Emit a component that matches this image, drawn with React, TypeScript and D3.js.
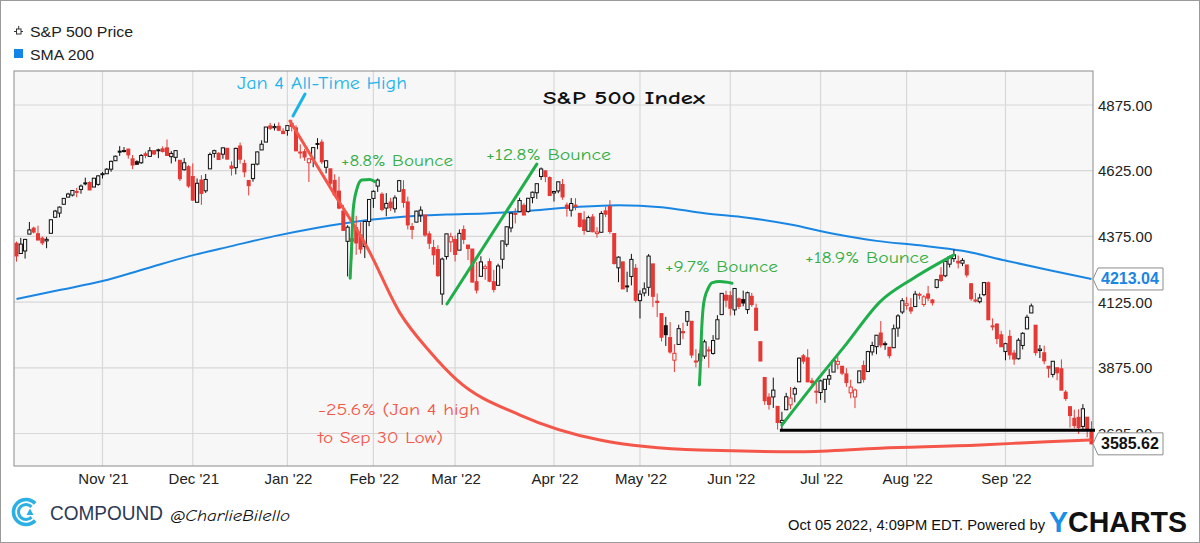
import React from 'react'
import * as d3 from 'd3'

// trading sessions Oct 4 2021 .. Sep 30 2022 (weekdays minus NYSE holidays)
const firstSession = '2021-10-04'
const lastSession = '2022-09-30'
const holidays = ['2021-11-25', '2021-12-24', '2022-01-17', '2022-02-21', '2022-04-15', '2022-05-30', '2022-06-20', '2022-07-04', '2022-09-05']
const priorClose = 4357.04

const opens = [
  // Oct
  4348.84, 4309.87, 4319.57, 4383.73, 4406.51, 4385.44, 4368.31, 4358.01, 4386.75, 4447.69, 4463.72, 4497.34, 4524.42, 4532.24, 4546.12, 4553.69, 4578.69, 4580.22, 4562.84, 4572.87,
  // Nov
  4610.62, 4613.34, 4630.65, 4662.93, 4699.26, 4701.48, 4707.25, 4670.26, 4659.39, 4655.24, 4689.3, 4679.42, 4701.5, 4700.72, 4708.44, 4712.0, 4678.48, 4675.78, 4664.63, 4628.75, 4640.25,
  // Dec
  4602.82, 4504.73, 4589.49, 4548.37, 4631.97, 4690.86, 4691.0, 4687.64, 4710.3, 4642.99, 4636.46, 4719.13, 4652.5, 4587.9, 4594.96, 4650.36, 4703.96, 4733.99, 4795.49, 4788.64, 4794.23, 4775.21,
  // Jan
  4778.14, 4804.51, 4787.99, 4693.39, 4697.66, 4655.34, 4669.14, 4728.59, 4733.56, 4637.99, 4632.24, 4588.03, 4547.35, 4471.38, 4356.32, 4366.64, 4408.43, 4380.58, 4336.19, 4431.79,
  // Feb
  4519.57, 4566.39, 4535.41, 4482.79, 4505.75, 4480.02, 4547.0, 4553.24, 4506.27, 4412.61, 4429.28, 4455.75, 4456.06, 4384.57, 4332.74, 4324.93, 4155.77, 4298.38, 4354.17,
  // Mar
  4363.14, 4322.56, 4401.31, 4342.12, 4327.01, 4202.66, 4223.1, 4252.55, 4279.5, 4202.75, 4188.82, 4288.14, 4345.11, 4407.34, 4462.4, 4469.1, 4493.1, 4469.98, 4522.66, 4541.09, 4602.86, 4624.2, 4599.02,
  // Apr
  4540.32, 4547.97, 4572.45, 4494.17, 4474.65, 4494.15, 4462.64, 4437.59, 4394.3, 4449.12, 4385.63, 4390.63, 4472.26, 4489.17, 4385.83, 4255.34, 4278.14, 4186.52, 4222.58, 4253.75,
  // May
  4130.61, 4159.78, 4181.18, 4270.43, 4128.17, 4081.27, 4035.18, 3990.08, 3903.95, 3963.9, 4013.02, 4052.0, 4051.98, 3899.0, 3927.76, 3919.42, 3942.94, 3929.59, 3984.6, 4077.43, 4151.09,
  // Jun
  4149.78, 4095.41, 4137.57, 4134.72, 4096.47, 4147.12, 4101.65, 3974.39, 3838.15, 3763.52, 3764.05, 3728.18, 3665.9, 3715.31, 3733.89, 3774.71, 3821.75, 3920.76, 3913.0, 3825.09, 3785.99,
  // Jul
  3781.0, 3792.61, 3831.98, 3858.85, 3888.26, 3880.94, 3851.95, 3779.67, 3763.99, 3818.0, 3883.79, 3860.73, 3935.32, 3955.47, 4007.45, 3965.72, 3953.22, 3951.43, 4026.13, 4087.33,
  // Aug
  4112.38, 4104.21, 4107.96, 4154.85, 4115.87, 4155.93, 4133.11, 4181.02, 4227.4, 4225.02, 4269.37, 4290.46, 4280.4, 4273.13, 4266.31, 4195.08, 4133.09, 4126.55, 4153.26, 4198.74, 4034.58, 4041.25, 4000.67,
  // Sep
  3936.73, 3994.66, 3930.89, 3909.43, 3959.94, 4022.94, 4083.67, 4037.12, 3940.73, 3932.41, 3880.95, 3849.91, 3875.23, 3871.4, 3782.36, 3727.14, 3682.72, 3686.44, 3651.94, 3687.01, 3633.48,
]

const highs = [
  4355.51, 4369.23, 4365.57, 4429.97, 4412.02, 4415.88, 4374.89, 4372.87, 4439.73, 4475.82, 4488.75, 4520.4, 4540.87, 4551.44, 4559.67, 4572.62, 4598.53, 4584.57, 4597.55, 4608.08,
  4620.34, 4635.15, 4663.46, 4683.0, 4718.5, 4714.92, 4708.53, 4684.85, 4664.55, 4688.47, 4697.42, 4714.95, 4701.5, 4708.8, 4717.75, 4743.83, 4699.39, 4702.87, 4664.63, 4672.95, 4646.02,
  4652.94, 4595.46, 4608.03, 4612.6, 4694.04, 4705.06, 4695.26, 4713.57, 4710.3, 4660.47, 4712.6, 4731.99, 4666.7, 4587.9, 4651.14, 4697.67, 4740.74, 4791.49, 4807.02, 4804.06, 4808.93, 4786.83,
  4796.64, 4818.62, 4797.7, 4725.01, 4707.95, 4673.02, 4714.13, 4748.83, 4744.13, 4665.13, 4632.24, 4611.55, 4602.11, 4494.52, 4417.35, 4411.01, 4453.23, 4428.74, 4432.72, 4516.89,
  4550.49, 4595.31, 4542.88, 4539.66, 4521.86, 4531.32, 4590.03, 4588.92, 4526.33, 4426.22, 4472.77, 4489.55, 4456.06, 4394.6, 4362.12, 4341.51, 4294.73, 4385.34, 4388.84,
  4378.45, 4401.48, 4416.78, 4342.12, 4327.01, 4276.94, 4299.4, 4268.28, 4291.01, 4247.57, 4271.05, 4358.9, 4412.67, 4465.4, 4481.75, 4522.0, 4501.07, 4520.58, 4546.03, 4575.65, 4637.3, 4627.77, 4603.07,
  4548.7, 4583.5, 4593.45, 4503.94, 4521.16, 4520.41, 4464.35, 4471.0, 4453.92, 4460.46, 4410.31, 4471.03, 4488.29, 4512.94, 4385.83, 4299.02, 4278.14, 4240.71, 4308.45, 4269.68,
  4169.81, 4200.1, 4307.66, 4270.43, 4157.69, 4081.27, 4068.82, 4049.09, 3964.8, 4038.88, 4046.46, 4090.72, 4051.98, 3945.96, 3943.42, 3981.88, 3955.68, 3999.33, 4075.14, 4158.49, 4168.34,
  4166.54, 4177.51, 4142.67, 4168.78, 4164.86, 4160.14, 4119.1, 3974.39, 3838.15, 3778.18, 3837.56, 3728.18, 3707.71, 3779.65, 3801.79, 3802.58, 3913.65, 3927.72, 3945.86, 3836.5, 3818.99,
  3829.82, 3832.19, 3870.91, 3910.63, 3918.5, 3880.94, 3873.41, 3829.44, 3796.41, 3863.62, 3902.44, 3939.81, 3974.13, 3999.29, 4052.69, 3975.3, 3953.22, 4039.56, 4078.95, 4140.15,
  4144.95, 4140.47, 4167.66, 4161.29, 4151.58, 4186.62, 4137.3, 4211.03, 4257.91, 4280.47, 4301.79, 4325.28, 4302.18, 4292.53, 4266.31, 4195.08, 4159.77, 4156.56, 4200.54, 4203.04, 4062.99, 4044.98, 4015.37,
  3970.23, 4018.43, 3942.55, 3987.89, 4010.5, 4076.81, 4119.28, 4037.12, 3961.94, 3959.14, 3880.95, 3900.45, 3876.01, 3907.07, 3790.28, 3727.14, 3715.67, 3717.53, 3736.74, 3687.01, 3671.44,
]

const lows = [
  4278.94, 4309.87, 4290.49, 4383.73, 4386.22, 4360.59, 4342.09, 4329.92, 4386.75, 4447.69, 4447.47, 4496.41, 4524.4, 4526.89, 4524.0, 4537.36, 4569.17, 4551.66, 4562.84, 4567.59,
  4595.06, 4613.34, 4621.19, 4662.59, 4681.32, 4694.39, 4670.87, 4630.86, 4648.31, 4650.77, 4672.86, 4679.42, 4684.41, 4672.78, 4694.22, 4682.17, 4652.66, 4659.89, 4585.43, 4625.26, 4560.0,
  4510.27, 4504.73, 4495.12, 4540.51, 4631.97, 4674.52, 4665.98, 4670.24, 4667.6, 4606.52, 4611.22, 4651.89, 4600.22, 4531.1, 4583.16, 4645.53, 4703.96, 4733.99, 4780.04, 4778.08, 4775.33, 4765.75,
  4758.17, 4774.27, 4699.44, 4671.26, 4662.74, 4582.24, 4638.27, 4706.71, 4650.29, 4614.75, 4568.7, 4530.2, 4477.95, 4395.34, 4222.62, 4287.11, 4304.8, 4309.5, 4292.46, 4414.02,
  4483.53, 4544.32, 4470.39, 4451.5, 4471.47, 4465.4, 4547.0, 4484.31, 4401.41, 4364.84, 4429.28, 4429.68, 4373.81, 4327.22, 4267.11, 4221.51, 4114.65, 4286.83, 4315.12,
  4279.54, 4322.56, 4345.56, 4284.98, 4199.85, 4157.87, 4223.1, 4209.8, 4200.49, 4161.72, 4187.9, 4251.99, 4335.65, 4390.57, 4424.3, 4469.1, 4455.81, 4465.17, 4501.07, 4517.69, 4589.66, 4581.32, 4530.41,
  4507.57, 4539.21, 4514.17, 4450.04, 4450.3, 4474.6, 4408.38, 4381.34, 4392.7, 4390.77, 4370.3, 4390.63, 4448.76, 4384.47, 4267.62, 4200.82, 4175.04, 4162.9, 4188.63, 4124.28,
  4062.51, 4147.08, 4148.91, 4106.01, 4067.91, 3975.48, 3958.17, 3928.82, 3858.87, 3963.9, 3983.99, 4033.93, 3911.91, 3876.58, 3810.32, 3909.04, 3875.13, 3925.03, 3984.6, 4077.43, 4104.88,
  4073.85, 4074.37, 4098.67, 4109.18, 4080.19, 4107.2, 4017.17, 3900.16, 3734.3, 3715.68, 3722.3, 3639.77, 3636.87, 3715.31, 3717.69, 3743.52, 3821.75, 3889.66, 3820.14, 3799.02, 3738.67,
  3752.1, 3742.06, 3809.37, 3858.85, 3869.34, 3847.22, 3802.36, 3759.07, 3721.56, 3817.18, 3818.63, 3860.73, 3922.03, 3926.63, 3951.43, 3943.46, 3910.74, 3951.43, 3992.97, 4079.22,
  4096.02, 4079.81, 4107.96, 4135.42, 4107.31, 4128.97, 4112.09, 4177.26, 4201.41, 4219.78, 4256.9, 4277.77, 4253.08, 4261.98, 4218.7, 4129.86, 4124.03, 4119.97, 4147.59, 4057.66, 4017.42, 3965.21, 3954.53,
  3903.65, 3906.21, 3886.75, 3906.03, 3944.81, 4022.94, 4083.67, 3921.33, 3912.07, 3888.28, 3837.08, 3838.5, 3827.54, 3789.49, 3749.45, 3647.47, 3644.76, 3623.29, 3640.61, 3610.4, 3584.13,
]

const closes = [
  4300.46, 4345.72, 4363.55, 4399.76, 4391.34, 4361.19, 4350.65, 4363.8, 4438.26, 4471.37, 4486.46, 4519.63, 4536.19, 4549.78, 4544.9, 4566.48, 4574.79, 4551.68, 4596.42, 4605.38,
  4613.67, 4630.65, 4660.57, 4680.06, 4697.53, 4701.7, 4685.25, 4646.71, 4649.27, 4682.85, 4682.8, 4700.9, 4688.67, 4704.54, 4697.96, 4682.94, 4690.7, 4701.46, 4594.62, 4655.27, 4567.0,
  4513.04, 4577.1, 4538.43, 4591.67, 4686.75, 4701.21, 4667.45, 4712.02, 4668.97, 4634.09, 4709.85, 4668.67, 4620.64, 4568.02, 4649.23, 4696.56, 4725.79, 4791.19, 4786.35, 4793.06, 4778.73, 4766.18,
  4796.56, 4793.54, 4700.58, 4696.05, 4677.03, 4670.29, 4713.07, 4726.35, 4659.03, 4662.85, 4577.11, 4532.76, 4482.73, 4397.94, 4410.13, 4356.45, 4349.93, 4326.51, 4431.85, 4515.55,
  4546.54, 4589.38, 4477.44, 4500.53, 4483.87, 4521.54, 4587.18, 4504.08, 4418.64, 4401.67, 4471.07, 4475.01, 4380.26, 4348.87, 4304.76, 4225.5, 4288.7, 4384.65, 4373.94,
  4306.26, 4386.54, 4363.49, 4328.87, 4201.09, 4170.7, 4277.88, 4259.52, 4204.31, 4173.11, 4262.45, 4357.86, 4411.67, 4463.12, 4461.18, 4511.61, 4456.24, 4520.16, 4543.06, 4575.52, 4631.6, 4602.45, 4530.41,
  4545.86, 4582.64, 4525.12, 4481.15, 4500.21, 4488.28, 4412.53, 4397.45, 4446.59, 4392.59, 4391.69, 4462.21, 4459.45, 4393.66, 4271.78, 4296.12, 4175.2, 4183.96, 4287.5, 4131.93,
  4155.38, 4175.48, 4300.17, 4146.87, 4123.34, 3991.24, 4001.05, 3935.18, 3930.08, 4023.89, 4008.01, 4088.85, 3923.68, 3900.79, 3901.36, 3973.75, 3941.48, 3978.73, 4057.84, 4158.24, 4132.15,
  4101.23, 4176.82, 4108.54, 4121.43, 4160.68, 4115.77, 4017.82, 3900.86, 3749.63, 3735.48, 3789.99, 3666.77, 3674.84, 3764.79, 3759.89, 3795.73, 3911.74, 3900.11, 3821.55, 3818.83, 3785.38,
  3825.33, 3831.39, 3845.08, 3902.62, 3899.38, 3854.43, 3818.8, 3801.78, 3790.38, 3863.16, 3830.85, 3936.69, 3959.9, 3998.95, 3961.63, 3966.84, 3921.05, 4023.61, 4072.43, 4130.29,
  4118.63, 4091.19, 4155.17, 4151.94, 4145.19, 4140.06, 4122.47, 4210.24, 4207.27, 4280.15, 4297.14, 4305.2, 4274.04, 4283.74, 4228.48, 4137.99, 4128.73, 4140.77, 4199.12, 4057.66, 4030.61, 3986.16, 3955.0,
  3966.85, 3924.26, 3908.19, 3979.87, 4006.18, 4067.36, 4110.41, 3932.69, 3946.01, 3901.35, 3873.33, 3899.89, 3855.93, 3789.93, 3757.99, 3693.23, 3655.04, 3647.29, 3719.04, 3640.47, 3585.62,
]

// 200-day simple moving average, read every 10 sessions
const smaSessions = [0, 10, 20, 30, 40, 50, 60, 70, 80, 90, 100, 110, 120, 130, 140, 150, 160, 170, 180, 190, 200, 210, 220, 230, 240, 250]
const smaValues = [4137, 4171, 4205, 4252, 4299, 4338, 4376, 4408, 4434, 4450, 4458, 4463, 4474, 4487, 4494, 4486, 4463, 4446, 4420, 4385, 4358, 4341, 4320, 4283, 4247, 4213.04]

const priceTicks = [3625, 3875, 4125, 4375, 4625, 4875]
const monthKeys = ['2021-11', '2021-12', '2022-01', '2022-02', '2022-03', '2022-04', '2022-05', '2022-06', '2022-07', '2022-08', '2022-09']
const monthLabels = ["Nov '21", "Dec '21", "Jan '22", "Feb '22", "Mar '22", "Apr '22", "May '22", "Jun '22", "Jul '22", "Aug '22", "Sep '22"]

// hand-drawn annotations, as [session, price]
const drawdownCurve: [number, number][] = [
  [63.6, 4814], [73.6, 4544], [81.5, 4335], [89.2, 4083], [96.2, 3935], [102.4, 3829], [117.1, 3695],
  [135.7, 3600], [158.9, 3562], [182.2, 3556], [200.8, 3569], [224.1, 3581], [239.7, 3594], [249.7, 3600],
]
const bounceJan: [number, number][] = [[77.6, 4216], [78.0, 4361], [78.3, 4475], [79.1, 4552], [80.3, 4590], [82.2, 4592], [83.4, 4583]]
const bounceMar: [number, number][] = [[100.1, 4118], [121.0, 4650]]
const bounceMay: [number, number][] = [[158.8, 3810], [159.0, 3867], [159.3, 4007], [159.7, 4106], [160.1, 4144], [160.8, 4175], [161.7, 4198], [163.6, 4203], [166.4, 4197]]
const bounceJun: [number, number][] = [[178.0, 3657], [185.3, 3810], [193.1, 3968], [200.8, 4126], [208.6, 4216], [217.9, 4304]]
const athPointer: [number, number][] = [[64.3, 4833], [67.1, 4917]]
const lowSession = 178

const W = 1200
const H = 543
const plot = { left: 14, right: 1093, top: 71, bottom: 466 }

const RED = '#e53935'
const INK = '#111111'
const BLUE = '#1a86e3'
const GREEN = '#1fae4a'
const GREEN_TXT = '#33ad44'
const CORAL = '#f4574a'
const CYAN = '#1db3ea'
const LOGO = '#2bb0e4'
const HAND = "'Comic Sans MS', 'Comic Neue', 'DejaVu Sans', sans-serif"
const SANS = "Arial, 'Liberation Sans', sans-serif"
const NARROW = "'Liberation Sans Narrow', 'Arial Narrow', Arial, sans-serif"

const fmtDay = d3.utcFormat('%Y-%m-%d')
const fmtMonth = d3.utcFormat('%Y-%m')
const sessions = d3
  .utcDays(new Date(firstSession + 'T00:00:00Z'), d3.utcDay.offset(new Date(lastSession + 'T00:00:00Z'), 1))
  .filter((d) => d.getUTCDay() !== 0 && d.getUTCDay() !== 6 && !holidays.includes(fmtDay(d)))

const x = d3.scaleLinear().domain([-0.58, sessions.length - 0.65]).range([plot.left, plot.right])
const y = d3.scaleLinear().domain([3501.3, 5004.4]).range([plot.bottom, plot.top])

const lineOf = (curve: d3.CurveFactory) =>
  d3
    .line<[number, number]>()
    .x((d) => x(d[0]))
    .y((d) => y(d[1]))
    .curve(curve)

function PriceTag({ value, color }: { value: number; color: string }) {
  const cy = y(value)
  const path = `M${plot.right},${cy} L${plot.right + 5},${cy - 11} H${plot.right + 70} V${cy + 11} H${plot.right + 5} Z`
  return (
    <g>
      <path d={path} fill='#fff' stroke='#8c8c8c' strokeWidth={1} />
      <text x={plot.right + 8} y={cy + 5.5} fontFamily={SANS} fontWeight='bold' fontSize={16} fill={color}>
        {value.toFixed(2)}
      </text>
    </g>
  )
}

// ring segment of the Compound mark, open towards the right
const ring = (r: number, w: number) =>
  d3.arc()({ innerRadius: r - w / 2, outerRadius: r + w / 2, startAngle: Math.PI / 2 + 0.75, endAngle: Math.PI / 2 + Math.PI * 2 - 0.75 }) || ''

export default function App() {
  const monthStarts = monthKeys.map((k) => sessions.findIndex((d) => fmtMonth(d) === k))
  const smaPoints = smaSessions.map((s, i) => [s, smaValues[i]] as [number, number])
  const lastClose = closes[closes.length - 1]
  const lastSma = smaValues[smaValues.length - 1]
  const lowLevel = lows[lowSession]

  return (
    <svg width={W} height={H} style={{ position: 'absolute', left: 0, top: 0, background: '#fff' }}>
      <defs>
        <clipPath id='above-tag'>
          <rect x={plot.right} y={0} width={W - plot.right} height={y(lastClose) - 11} />
        </clipPath>
      </defs>
      <rect x={0.5} y={0.5} width={W - 1} height={H - 1} fill='#fff' stroke='#9a9a9a' />

      {/* legend */}
      <g fontFamily={SANS} fontSize={15.5} fill='#222'>
        <line x1={14} x2={23} y1={31.5} y2={31.5} stroke='#333' />
        <rect x={16.5} y={29} width={4.5} height={5} fill='#fff' stroke='#333' />
        <line x1={18.7} x2={18.7} y1={26} y2={29} stroke='#333' />
        <text x={30} y={36.5} textLength={103} lengthAdjust='spacingAndGlyphs'>S&amp;P 500 Price</text>
        <rect x={14} y={49} width={9} height={9} fill='#1385e8' />
        <text x={30} y={59.5} textLength={64} lengthAdjust='spacingAndGlyphs'>SMA 200</text>
      </g>

      {/* plot area */}
      <rect x={plot.left} y={plot.top} width={plot.right - plot.left} height={plot.bottom - plot.top} fill='#f7f7f7' />
      <g stroke='#d8d8d8' strokeWidth={1.2}>
        {priceTicks.map((t) => (
          <line key={t} x1={plot.left} x2={plot.right} y1={y(t)} y2={y(t)} />
        ))}
        {monthStarts.map((s, i) => (
          <line key={i} x1={x(s)} x2={x(s)} y1={plot.top} y2={plot.bottom} />
        ))}
      </g>
      <rect x={plot.left} y={plot.top} width={plot.right - plot.left} height={plot.bottom - plot.top} fill='none' stroke='#8c8c8c' />

      {/* SMA 200 */}
      <path d={lineOf(d3.curveMonotoneX)(smaPoints) || ''} fill='none' stroke={BLUE} strokeWidth={2} />

      {/* candles: colour vs previous close, hollow when close >= open */}
      <g>
        {closes.map((c, i) => {
          const o = opens[i]
          const prev = i === 0 ? priorClose : closes[i - 1]
          const color = c >= prev ? INK : RED
          const cx = x(i)
          const top = y(Math.max(o, c))
          const bot = y(Math.min(o, c))
          const hgt = Math.max(1, bot - top)
          return (
            <g key={i}>
              <line x1={cx} x2={cx} y1={y(highs[i])} y2={y(lows[i])} stroke={color} strokeWidth={1} />
              {c >= o ? (
                <rect x={cx - 1.6} y={top} width={3.2} height={hgt} fill='#f7f7f7' stroke={color} strokeWidth={1} />
              ) : (
                <rect x={cx - 2} y={top - 0.5} width={4} height={hgt + 1} fill={color} />
              )}
            </g>
          )
        })}
      </g>

      {/* annotations */}
      <g fill='none' strokeLinecap='round'>
        <path d={lineOf(d3.curveMonotoneX)(drawdownCurve) || ''} stroke={CORAL} strokeWidth={3} />
        <path d={lineOf(d3.curveMonotoneX)(bounceJan) || ''} stroke={GREEN} strokeWidth={3} />
        <path d={lineOf(d3.curveLinear)(bounceMar) || ''} stroke={GREEN} strokeWidth={3} />
        <path d={lineOf(d3.curveMonotoneX)(bounceMay) || ''} stroke={GREEN} strokeWidth={3} />
        <path d={lineOf(d3.curveMonotoneX)(bounceJun) || ''} stroke={GREEN} strokeWidth={3} />
        <path d={lineOf(d3.curveLinear)(athPointer) || ''} stroke={CYAN} strokeWidth={3} />
        <line x1={x(lowSession) - 2} x2={plot.right + 2} y1={y(lowLevel)} y2={y(lowLevel)} stroke='#000' strokeWidth={3} strokeLinecap='butt' />
      </g>
      <g fontFamily={HAND}>
        <text x={237} y={89} fontSize={17} fill={CYAN} textLength={170} lengthAdjust='spacingAndGlyphs'>Jan 4 All-Time High</text>
        <text x={543} y={104} fontSize={19} fontWeight='bold' fill='#111' textLength={162} lengthAdjust='spacingAndGlyphs'>S&amp;P 500 Index</text>
        <text x={341} y={166} fontSize={15} fill={GREEN_TXT} textLength={112} lengthAdjust='spacingAndGlyphs'>+8.8% Bounce</text>
        <text x={486} y={160} fontSize={15} fill={GREEN_TXT} textLength={125} lengthAdjust='spacingAndGlyphs'>+12.8% Bounce</text>
        <text x={665} y={272} fontSize={15} fill={GREEN_TXT} textLength={113} lengthAdjust='spacingAndGlyphs'>+9.7% Bounce</text>
        <text x={805} y={263} fontSize={15} fill={GREEN_TXT} textLength={124} lengthAdjust='spacingAndGlyphs'>+18.9% Bounce</text>
        <text x={318} y={415} fontSize={16} fill={CORAL} textLength={162} lengthAdjust='spacingAndGlyphs'>-25.6% (Jan 4 high</text>
        <text x={318} y={443} fontSize={16} fill={CORAL} textLength={125} lengthAdjust='spacingAndGlyphs'>to Sep 30 Low)</text>
      </g>

      {/* right axis; the lowest label sits half hidden behind the last-price tag */}
      <g fontFamily={SANS} fontSize={15} fill='#222'>
        {priceTicks.map((t) => (
          <text key={t} x={plot.right + 5} y={y(t) + 5.5} clipPath={y(t) + 6 > y(lastClose) - 11 ? 'url(#above-tag)' : undefined}>
            {t.toFixed(2)}
          </text>
        ))}
      </g>
      <PriceTag value={lastSma} color='#1a86e3' />
      <PriceTag value={lastClose} color='#111' />

      {/* bottom axis */}
      <g fontFamily={NARROW} fontSize={15} fill='#222' textAnchor='middle'>
        {monthStarts.map((s, i) => (
          <text key={i} x={x(s) + 1} y={484}>
            {monthLabels[i]}
          </text>
        ))}
      </g>

      {/* footer */}
      <g transform='translate(26,512)' fill={LOGO}>
        <path d={ring(12.5, 3.6)} />
        <path d={ring(7.5, 3)} />
        <path d='M4,-3.5 L7.5,3 L0.5,3 Z' />
      </g>
      <g fontFamily={SANS}>
        <text x={50} y={520} fontSize={20} fill='#2b3957' textLength={113} lengthAdjust='spacingAndGlyphs'>COMPOUND</text>
        <text x={170} y={521} fontSize={16} fontStyle='italic' fontFamily={HAND} fill='#111' textLength={120} lengthAdjust='spacingAndGlyphs'>@CharlieBilello</text>
        <text x={1045} y={530} fontSize={15} fontFamily={NARROW} fill='#111' textAnchor='end' textLength={257} lengthAdjust='spacingAndGlyphs'>
          Oct 05 2022, 4:09PM EDT. Powered by
        </text>
        <text x={1049} y={532} fontSize={30} fontWeight='bold' fontFamily={NARROW} textLength={138} lengthAdjust='spacingAndGlyphs'>
          <tspan fill='#1a8fe6'>Y</tspan>
          <tspan fill='#111'>CHARTS</tspan>
        </text>
      </g>
    </svg>
  )
}
